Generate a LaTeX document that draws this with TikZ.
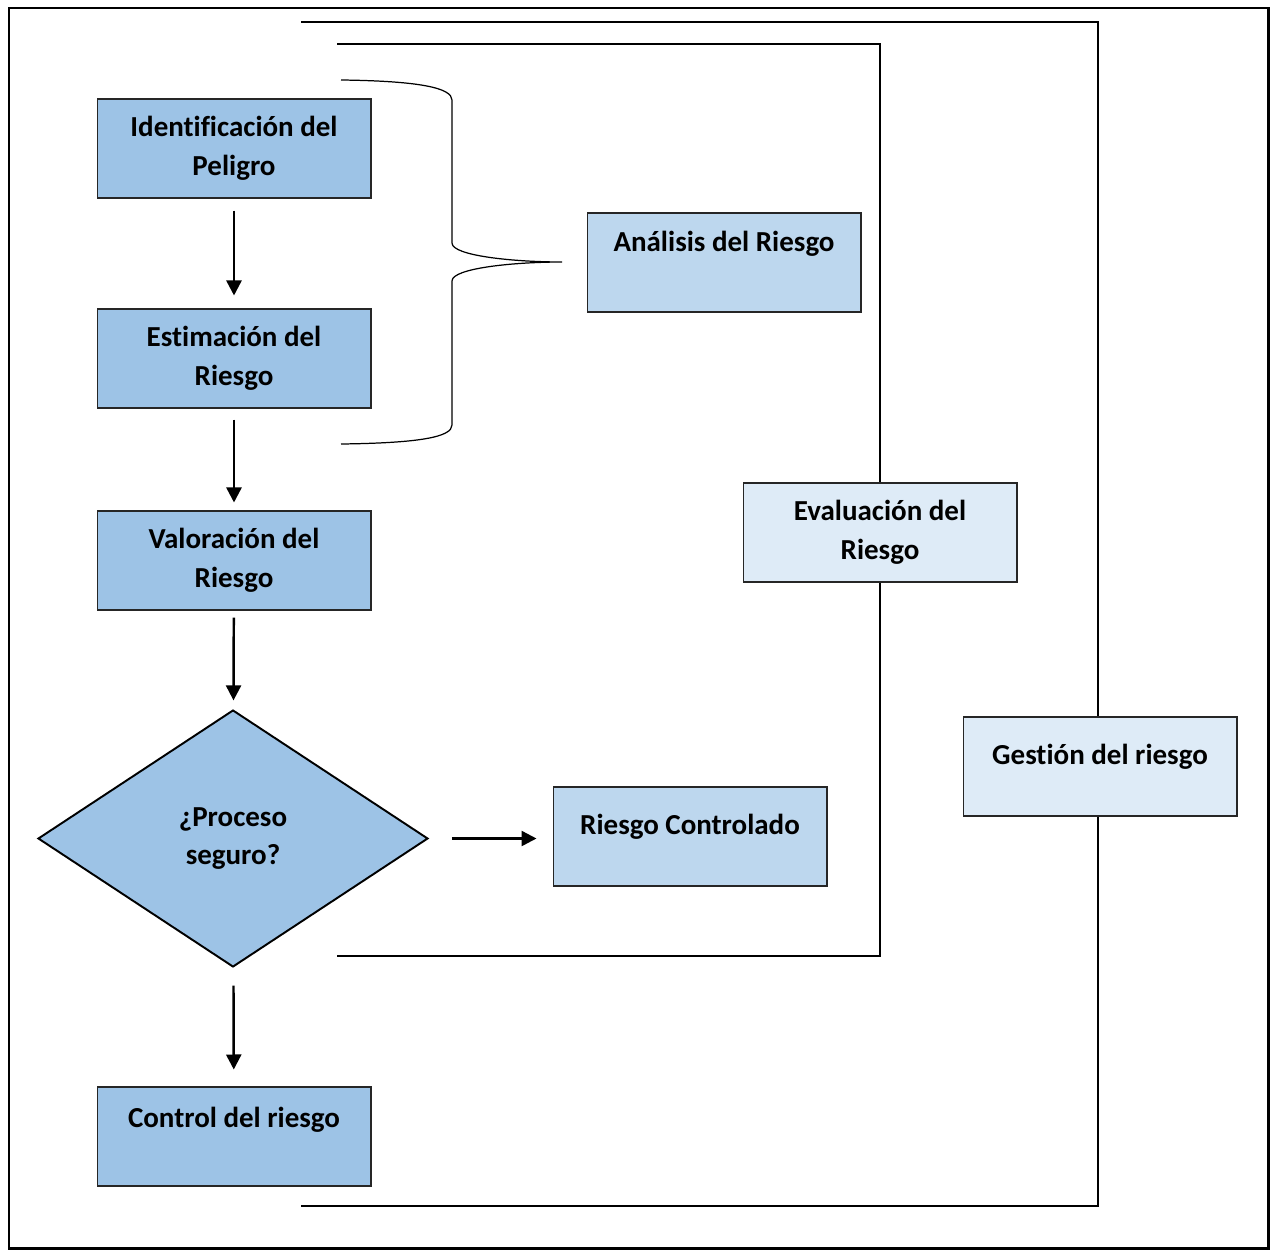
\documentclass[tikz,border=0pt]{standalone}
\usepackage{fontspec}
\setmainfont{Carlito}[Ligatures=NoCommon]
\usetikzlibrary{shapes.geometric,arrows.meta}

\definecolor{darkfill}{HTML}{9DC3E6}
\definecolor{midfill}{HTML}{BDD7EE}
\definecolor{lightfill}{HTML}{DEEBF7}

\begin{document}
\begin{tikzpicture}[
		x=0.02cm, y=-0.02cm,
		every node/.style={font=\bfseries\fontsize{16.5}{22}\selectfont, align=center},
		stepbox/.style={rectangle, draw=black!85, line width=0.6pt, minimum width=5.48cm, minimum height=1.98cm, inner sep=0pt},
		flow/.style={-{Triangle[length=0.3cm, width=0.3cm]}, line width=1.4pt},
		bracket/.style={line width=0.9pt}
	]
  \useasboundingbox (0,0) rectangle (1274,1250);
  \draw[line width=1.7pt] (9,8) rectangle (1268,1248);

  % brackets behind the boxes
  \coordinate (g_tl) at (301,22);
  \coordinate (g_tr) at (1098,22);
  \coordinate (g_br) at (1098,1206);
  \coordinate (g_bl) at (301,1206);
  \coordinate (e_tl) at (337,44);
  \coordinate (e_tr) at (880,44);
  \coordinate (e_br) at (880,956);
  \coordinate (e_bl) at (337,956);
  \draw[bracket] (g_tl) -- (g_tr) -- (g_br) -- (g_bl);
  \draw[bracket] (e_tl) -- (e_tr) -- (e_br) -- (e_bl);

  % brace
  \coordinate (b_top) at (341,80);
  \coordinate (b_tip) at (562,262);
  \coordinate (b_bot) at (341,444);
  \draw[line width=0.7pt] (b_top) .. controls (420,81) and (452,88) .. (452,100)
    -- (452,243) .. controls (452,256) and (515,262) .. (b_tip)
    .. controls (515,262) and (452,268) .. (452,281)
    -- (452,425) .. controls (452,437) and (420,443) .. (b_bot);

  \node (ident) [stepbox, fill=darkfill] at (234,148.5) {Identificación del\\Peligro};
  \node (estim) [stepbox, fill=darkfill] at (234,358.5) {Estimación del\\Riesgo};
  \node (valor) [stepbox, fill=darkfill] at (234,560.5) {Valoración del\\Riesgo};
  \node (proc) [diamond, draw=black, line width=1.1pt, fill=darkfill, aspect=1.52,
    minimum width=7.8cm, minimum height=5.14cm, inner sep=0pt] at (233,838.5) {¿Proceso\\seguro?};
  \node (ctrl) [stepbox, fill=darkfill] at (234,1136.5) {Control del riesgo\\~};
  \node (anal) [stepbox, fill=midfill] at (724,262.5) {Análisis del Riesgo\\[0.08cm]~};
  \node (rctl) [stepbox, fill=midfill] at (690,836.5) {Riesgo Controlado\\[-0.28cm]~};
  \node (eval) [stepbox, fill=lightfill] at (880,532.5) {Evaluación del\\Riesgo};
  \node (gest) [stepbox, fill=lightfill] at (1100,766.5) {Gestión del riesgo\\[-0.28cm]~};

  \draw[flow, shorten <=0.24cm, shorten >=0.26cm] (ident) -- (estim);
  \draw[flow, shorten <=0.22cm, shorten >=0.16cm] (estim) -- (valor);
  \draw[flow, shorten <=0.14cm, shorten >=0.18cm] (valor) -- (proc);
  \draw[flow, shorten <=0.36cm, shorten >=0.34cm] (proc) -- (ctrl);
  \draw[flow, shorten <=0.46cm, shorten >=0.32cm] (proc) -- (rctl.west |- proc);
\end{tikzpicture}
\end{document}
